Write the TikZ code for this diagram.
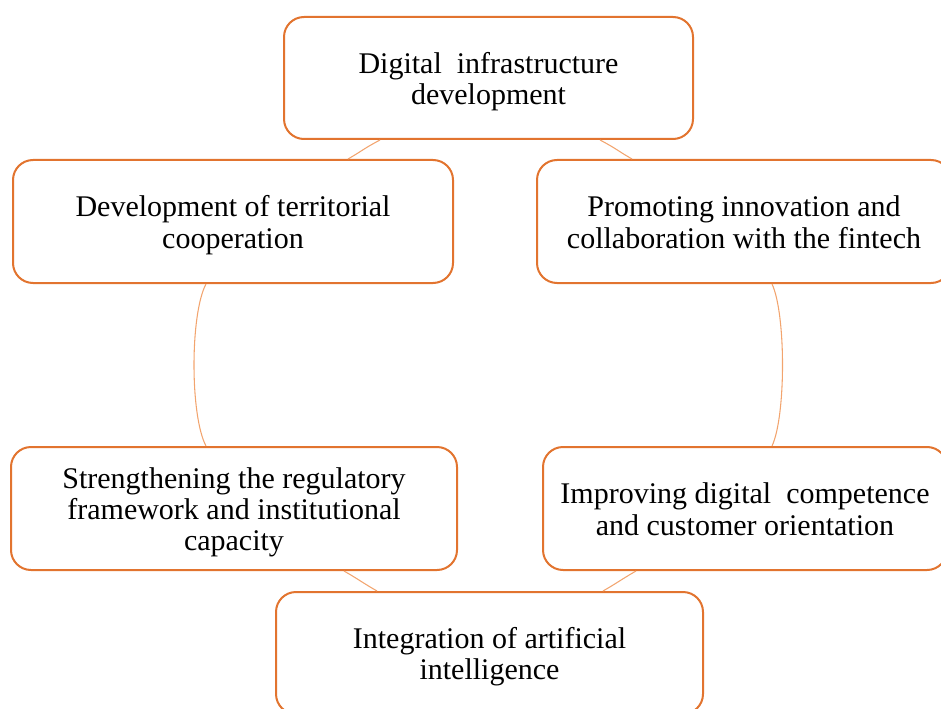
\documentclass[tikz,border=0pt]{standalone}
\usepackage{fontspec}
\setmainfont{Liberation Serif}
\usetikzlibrary{calc}
\definecolor{boxc}{HTML}{E2742F}
\definecolor{arcc}{HTML}{F2A46E}
\newcommand\fstrut{\rule{0pt}{21.5pt}}
\newcommand\lstrut{\rule[-5pt]{0pt}{5pt}}
\begin{document}
\begin{tikzpicture}[x=0.75pt,y=-0.75pt,
  cbox/.style={draw=boxc, line width=1.5pt, rounded corners=15pt, fill=white,
    align=center, inner sep=0pt, minimum height=91.5pt,
    font=\fontsize{22.5}{23.3}\selectfont},
  arcl/.style={draw=arcc, line width=0.8pt}]
\useasboundingbox (0,0) rectangle (941,709);
\clip (0,0) rectangle (941,709);
\node[cbox, minimum width=306.75pt] (top) at (488.5,78) {\fstrut Digital\ \ infrastructure\\\lstrut development};
\node[cbox, minimum width=330pt, minimum height=92.25pt] (lu) at (233,221.5) {\fstrut Development of territorial\\\lstrut cooperation};
\node[cbox, minimum width=310.5pt, minimum height=92.25pt] (ru) at (744,221.5) {\fstrut Promoting innovation and\\\lstrut collaboration with the fintech};
\node[cbox, minimum width=334.5pt, minimum height=92.25pt] (ll) at (234,508.5) {\fstrut Strengthening the regulatory\\framework and institutional\\\lstrut capacity};
\node[cbox, minimum width=303pt, minimum height=92.25pt] (rl) at (745,508.5) {\fstrut Improving digital\ \ competence\\\lstrut and customer orientation};
\node[cbox, minimum width=320.25pt] (bot) at (489.5,653) {\fstrut Integration of artificial\\\lstrut intelligence};
% connectors
\draw[arcl] ($(top.south west)+(97,0)$) .. controls ($(top.south west)+(80,9)$) and ($(lu.north east)+(-92,-8)$) .. ($(lu.north east)+(-106,0)$);
\draw[arcl] ($(top.south east)+(-94,0)$) .. controls ($(top.south east)+(-77,9)$) and ($(ru.north west)+(82,-8)$) .. ($(ru.north west)+(96,0)$);
\draw[arcl] ($(lu.south west)+(194,0)$) .. controls ($(lu.south west)+(178,30)$) and ($(ll.north west)+(180,-30)$) .. ($(ll.north west)+(196,0)$);
\draw[arcl] ($(ru.south west)+(236,0)$) .. controls ($(ru.south west)+(250,30)$) and ($(rl.north west)+(244,-30)$) .. ($(rl.north west)+(230,0)$);
\draw[arcl] ($(ll.south east)+(-114,0)$) .. controls ($(ll.south east)+(-100,8)$) and ($(bot.north west)+(88,-8)$) .. ($(bot.north west)+(102,0)$);
\draw[arcl] ($(rl.south west)+(94,0)$) .. controls ($(rl.south west)+(80,8)$) and ($(bot.north east)+(-87,-8)$) .. ($(bot.north east)+(-101,0)$);
\end{tikzpicture}
\end{document}
